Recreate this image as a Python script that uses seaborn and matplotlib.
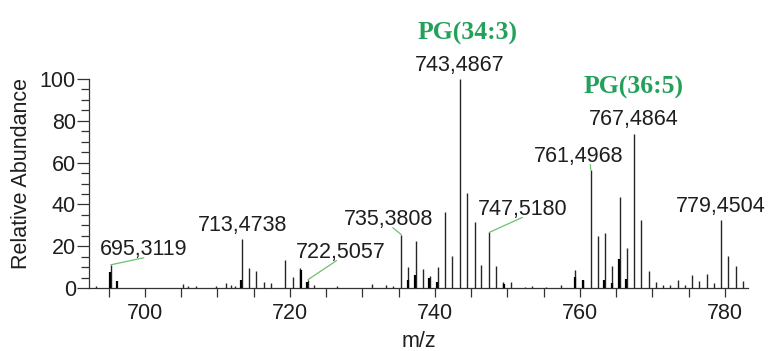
import matplotlib
matplotlib.use("Agg")
import matplotlib.pyplot as plt
from matplotlib.ticker import MultipleLocator
import seaborn as sns
import pandas as pd

# ---- data ----
peak_mz = [693.3, 695.31, 705.2, 706.0, 707.0, 709.8, 711.2, 711.9, 712.4,
           713.47, 714.4, 715.4, 716.4, 717.4, 719.4, 720.4, 721.4, 722.51,
           723.4, 726.5, 731.4, 733.3, 734.2, 735.38, 736.3, 737.4, 738.4,
           739.3, 740.4, 741.4, 742.4, 743.49, 744.5, 745.5, 746.4, 747.52,
           748.4, 749.4, 750.5, 752.4, 753.4, 755.3, 757.4, 759.4, 760.4,
           761.50, 762.5, 763.5, 764.5, 765.5, 766.5, 767.49, 768.5, 769.5,
           770.5, 771.5, 772.5, 773.5, 774.5, 775.5, 776.5, 777.5, 778.5,
           779.45, 780.5, 781.5, 782.5]
peak_int = [1.0, 11.1, 2.0, 1.0, 1.0, 1.0, 2.5, 1.5, 1.0,
            23.4, 9.6, 8.0, 2.7, 2.4, 13.5, 5.3, 9.6, 4.0,
            1.5, 0.8, 2.0, 1.5, 0.8, 25.5, 10.0, 22.3, 9.0,
            5.6, 10.0, 36.2, 15.1, 100.0, 45.4, 31.4, 11.1, 26.6,
            10.7, 2.7, 2.9, 0.6, 1.0, 0.6, 1.5, 8.8, 4.0,
            56.6, 25.0, 26.3, 10.7, 43.5, 19.1, 73.8, 32.4, 8.0,
            3.0, 1.5, 1.5, 4.0, 1.5, 6.0, 3.2, 6.8, 2.5,
            32.4, 15.1, 10.7, 3.5]

bold_mz = [695.2, 696.2, 713.3, 721.5, 722.4, 736.3, 737.3, 739.2, 740.3,
           749.5, 759.4, 760.5, 763.4, 764.4, 765.4, 766.4]
bold_int = [7.5, 3.5, 4.0, 8.5, 3.0, 4.0, 6.0, 5.0, 3.0,
            2.0, 5.5, 4.0, 4.0, 2.5, 13.9, 4.5]

label_mz = [695.31, 713.47, 722.51, 735.38, 743.49, 747.52, 761.50, 767.49, 779.45]
label_int = [11.1, 23.4, 4.0, 25.5, 100.0, 26.6, 56.6, 73.8, 32.4]
label_text = ["695,3119", "713,4738", "722,5057", "735,3808", "743,4867",
              "747,5180", "761,4968", "767,4864", "779,4504"]

lipid_text = ["PG(34:3)", "PG(36:5)"]
lipid_mz = [743.49, 767.49]
lipid_int = [100.0, 73.8]

x_ticks = [700, 720, 740, 760, 780]
y_ticks = [0, 20, 40, 60, 80, 100]

# ---- styling ----
sns.set_theme(style="ticks")
plt.rcParams["font.family"] = ["Liberation Sans", "DejaVu Sans"]
TXT = "#1e1e1e"
GREEN = "#23a05a"
LEAD = "#6cc070"
FS = 15.5

fig = plt.figure(figsize=(7.7, 3.51), dpi=100)
ax = fig.add_axes([89 / 770, 1 - 288 / 351, (748 - 89) / 770, (288 - 79) / 351])

peaks = pd.DataFrame({"mz": peak_mz, "intensity": peak_int})
bold = pd.DataFrame({"mz": bold_mz, "intensity": bold_int})

ax.vlines(peaks["mz"], 0, peaks["intensity"], color="#262626", lw=1.0, clip_on=False, zorder=3)
ax.vlines(bold["mz"], 0, bold["intensity"], color="black", lw=1.6, clip_on=False, zorder=4)

ax.set_xlim(692.3, 783.2)
ax.set_ylim(0, 100)
ax.set_xticks(x_ticks)
ax.set_yticks(y_ticks)
ax.xaxis.set_minor_locator(MultipleLocator(5))
ax.yaxis.set_minor_locator(MultipleLocator(5))
ax.tick_params(axis="x", which="both", length=6.5, width=0.9, color="#333333",
               labelsize=FS, labelcolor=TXT, pad=4)
ax.tick_params(axis="y", which="major", length=8.5, width=0.9, color="#333333",
               labelsize=FS, labelcolor=TXT, pad=1)
ax.tick_params(axis="y", which="minor", length=5.5, width=0.9, color="#333333")
sns.despine(ax=ax)
for s in ("left", "bottom"):
    ax.spines[s].set_linewidth(0.9)
    ax.spines[s].set_color("#333333")

ax.set_xlabel("m/z", fontsize=FS, color=TXT, labelpad=5)
ax.set_ylabel("Relative Abundance", fontsize=FS, color=TXT)
ax.yaxis.set_label_coords(-0.086, 0.548)

# label offsets in pixels (dx, dy) relative to peak tops, and leader settings
offsets = [(33, 15), (0, 14), (33, 27), (-13, 15), (0, 14), (33, 23), (-12, 13), (0, 14), (0, 14)]
leaders = [(0.5, 0.12), None, (0.45, 0.12), (0.55, 0.12), None, (0.5, 0.12), (0.63, 0.12), None, None]
for mz, it, txt, off, lead in zip(label_mz, label_int, label_text, offsets, leaders):
    kw = {}
    if lead is not None:
        kw["arrowprops"] = dict(arrowstyle="-", color=LEAD, lw=0.9, relpos=lead,
                                shrinkA=0, shrinkB=0, patchA=None)
    ax.annotate(txt, xy=(mz, it), xytext=off, textcoords="offset pixels",
                ha="center", va="center", fontsize=FS, color=TXT,
                annotation_clip=False, **kw)

lip_off = [(7, 46), (-1, 46)]
for mz, it, txt, off in zip(lipid_mz, lipid_int, lipid_text, lip_off):
    ax.annotate(txt, xy=(mz, it), xytext=off, textcoords="offset pixels",
                ha="center", va="center", fontsize=18.5, color=GREEN,
                fontweight="bold", family=["Liberation Serif", "DejaVu Serif"],
                annotation_clip=False)

fig.savefig("out.png", dpi=100)
